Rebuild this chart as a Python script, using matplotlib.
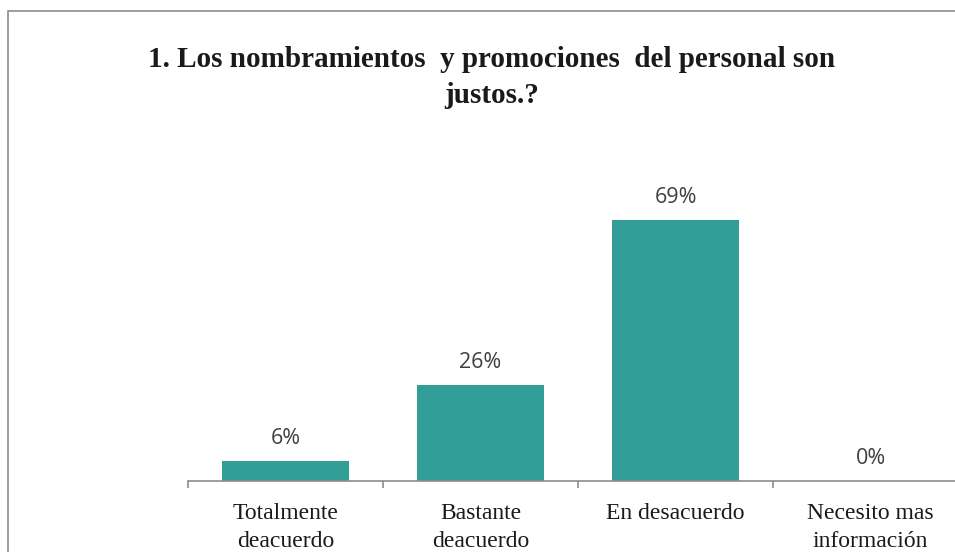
import matplotlib
matplotlib.use("Agg")
import matplotlib.pyplot as plt
from matplotlib.patches import Rectangle

categories = ["Totalmente\ndeacuerdo", "Bastante\ndeacuerdo", "En desacuerdo", "Necesito mas\ninformación"]
values = [5.4, 25.4, 69.0, 0.0]
value_labels = ["6%", "26%", "69%", "0%"]
title = "1. Los nombramientos  y promociones  del personal son\njustos.?"

W, H = 955, 552
fig = plt.figure(figsize=(W / 100, H / 100), dpi=100)
fig.patch.set_facecolor("white")

# outer chart border
fig.add_artist(Rectangle((8 / W, -0.1), 1.2, (H - 11) / H + 0.1, transform=fig.transFigure,
                         fill=False, edgecolor="#8c8c8c", linewidth=1.2))

px_per_unit = 3.78
ymax = 80
ax_left, ax_right, ax_bottom = 188, 955, 481
ax_h = ymax * px_per_unit
ax = fig.add_axes([ax_left / W, (H - ax_bottom) / H, (ax_right - ax_left) / W, ax_h / H])
ax.set_facecolor("none")

x = list(range(len(categories)))
bars = ax.bar(x, values, width=0.65, color="#339d97", edgecolor="none")
ax.set_xlim(-0.5, -0.5 + (ax_right - ax_left) / 195)
ax.set_ylim(0, ymax)

for b, lab in zip(bars, value_labels):
    ax.annotate(lab, (b.get_x() + b.get_width() / 2, b.get_height()), xytext=(0, 8.5),
                textcoords="offset points", ha="center", va="bottom",
                fontsize=15.5, family="Open Sans", color="#404040")

for s in ["top", "left", "right"]:
    ax.spines[s].set_visible(False)
ax.spines["bottom"].set_color("#8c8c8c")
ax.spines["bottom"].set_linewidth(1.2)
ax.set_yticks([])
ax.set_xticks(x)
ax.set_xticklabels(categories, family="Liberation Serif", fontsize=17, color="#1a1a1a",
                   linespacing=1.4)
ax.tick_params(axis="x", which="major", length=0, pad=16)
ax.set_xticks([-0.5, 0.5, 1.5, 2.5], minor=True)
ax.tick_params(axis="x", which="minor", length=5, color="#8c8c8c", width=1.2, direction="out")

fig.text(492 / W, 1 - 46 / H, title, ha="center", va="top", multialignment="center",
         fontsize=21, fontweight="bold", family="Liberation Serif", color="#1a1a1a",
         linespacing=1.45)

fig.savefig("out.png", dpi=100)
